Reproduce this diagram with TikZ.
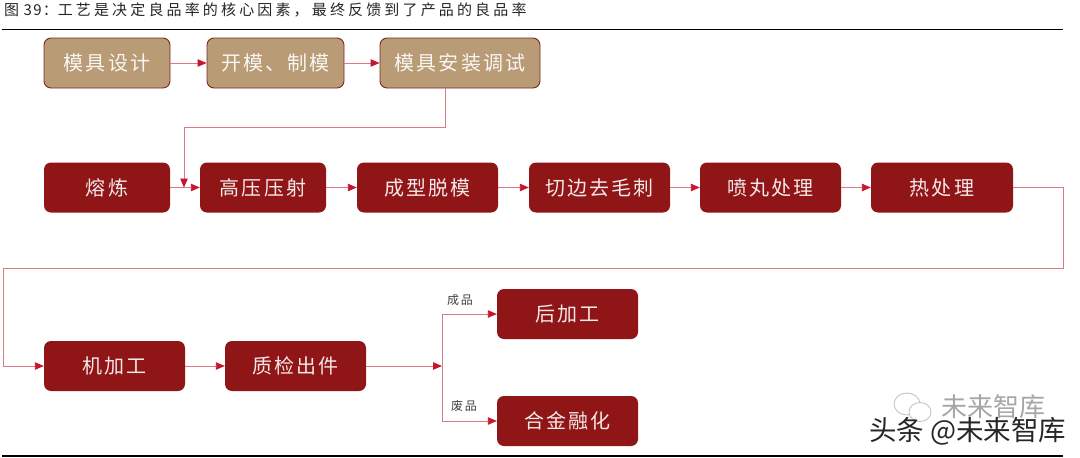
\documentclass[tikz,border=0pt]{standalone}
\usepackage{fontspec}
\setmainfont{Noto Sans CJK SC}[Scale=1]
\usetikzlibrary{arrows.meta,calc}
\definecolor{brownbox}{HTML}{B99B75}
\definecolor{brownedge}{HTML}{7A2A22}
\definecolor{redbox}{HTML}{8F1516}
\definecolor{linkred}{HTML}{DC7A84}
\definecolor{tipred}{HTML}{C8142E}
\newcommand{\spaced}[1]{\addfontfeatures{LetterSpace=#1}}
\tikzset{
  x=1pt,y=-1pt,
  boxbase/.style={rounded corners=7pt,minimum height=50pt,inner sep=0pt,anchor=center,text=white,font=\fontsize{20}{22}\selectfont\spaced{11}},
  brownstep/.style={boxbase,fill=brownbox,draw=brownedge,line width=0.9pt,text=white!92!brownbox},
  redstep/.style={boxbase,fill=redbox,text=white!90!redbox},
  link/.style={draw=linkred,line width=0.9pt},
  arrowlink/.style={link,-{Triangle[length=9pt,width=7.5pt,fill=tipred,color=tipred]}},
  rulebar/.style={draw=black,line width=1.4pt},
  smalllabel/.style={font=\fontsize{12}{14}\selectfont\spaced{16},text=black!75,inner sep=0pt},
  titlelabel/.style={font=\fontsize{15}{17}\selectfont,text=black!85,inner sep=0pt,anchor=west},
  wmgrey/.style={font=\fontsize{26}{28}\selectfont,text=black!35,inner sep=0pt},
  wmblack/.style={font=\fontsize{27.5}{29}\selectfont,text=black!85,inner sep=0pt},
  bubble/.style={draw=black!25,line width=0.8pt,fill=white},
}
\begin{document}
\begin{tikzpicture}
\useasboundingbox (0,0) rectangle (1080,458);
\node[titlelabel] (title) at (4,10) {{\spaced{8}图 39：}{\spaced{21}工艺是决定良品率的核心因素，最终反馈到了产品的良品率}};
\coordinate (ruleA) at (2,29.5); \coordinate (ruleB) at (1063,29.5);
\draw[rulebar] (ruleA) -- (ruleB);
\coordinate (ruleC) at (2,456); \coordinate (ruleD) at (1063,456);
\draw[rulebar] (ruleC) -- (ruleD);

\node[brownstep,minimum width=126pt] (a1) at (107,63) {模具设计};
\node[brownstep,minimum width=137pt] (a2) at (275.5,63) {开模、制模};
\node[brownstep,minimum width=160pt] (a3) at (460,63) {模具安装调试};

\node[redstep,minimum width=126pt] (b1) at (107,187.5) {熔炼};
\node[redstep,minimum width=126pt] (b2) at (263,187.5) {高压压射};
\node[redstep,minimum width=141pt] (b3) at (427.5,187.5) {成型脱模};
\node[redstep,minimum width=141pt] (b4) at (599.5,187.5) {切边去毛刺};
\node[redstep,minimum width=141pt] (b5) at (770.5,187.5) {喷丸处理};
\node[redstep,minimum width=142pt] (b6) at (942,187.5) {热处理};

\node[redstep,minimum width=141pt] (c1) at (114.5,366) {机加工};
\node[redstep,minimum width=141pt] (c2) at (295.5,366) {质检出件};
\node[redstep,minimum width=141pt] (d1) at (567.5,314) {后加工};
\node[redstep,minimum width=141pt] (d2) at (567.5,421) {合金融化};

\node[smalllabel] (l1) at (460,300) {成品};
\node[smalllabel] (l2) at (464,405.5) {废品};

\draw[arrowlink] (a1) -- (a2);
\draw[arrowlink] (a2) -- (a3);
\coordinate (m1) at (445,127);
\coordinate (m2) at (184,127);
\coordinate (m3) at (184,187.5);
\draw[arrowlink] (a3.south -| m1) -- (m1) -- (m2) -- (m3);
\draw[arrowlink] (b1) -- (b2);
\draw[arrowlink] (b2) -- (b3);
\draw[arrowlink] (b3) -- (b4);
\draw[arrowlink] (b4) -- (b5);
\draw[arrowlink] (b5) -- (b6);
\coordinate (r1) at (1063,187.5);
\coordinate (r2) at (1063,268);
\coordinate (r3) at (3,268);
\coordinate (r4) at (3,366);
\draw[arrowlink] (b6.east) -- (r1) -- (r2) -- (r3) -- (r4) -- (c1.west);
\draw[arrowlink] (c1) -- (c2);
\coordinate (s0) at (442,366);
\draw[arrowlink] (c2.east) -- (s0);
\draw[arrowlink] (s0) -- (s0 |- d1.west) -- (d1.west);
\draw[arrowlink] (s0) -- (s0 |- d2.west) -- (d2.west);

% watermark
\draw[bubble] (907,404) ellipse (13pt and 11pt);
\draw[bubble] (920,412) ellipse (11pt and 9.5pt);
\node[wmgrey,anchor=west] (w1) at (941,407) {未来智库};
\node[wmblack,anchor=west] (w2) at (869,431) {头条 @未来智库};
\end{tikzpicture}
\end{document}
